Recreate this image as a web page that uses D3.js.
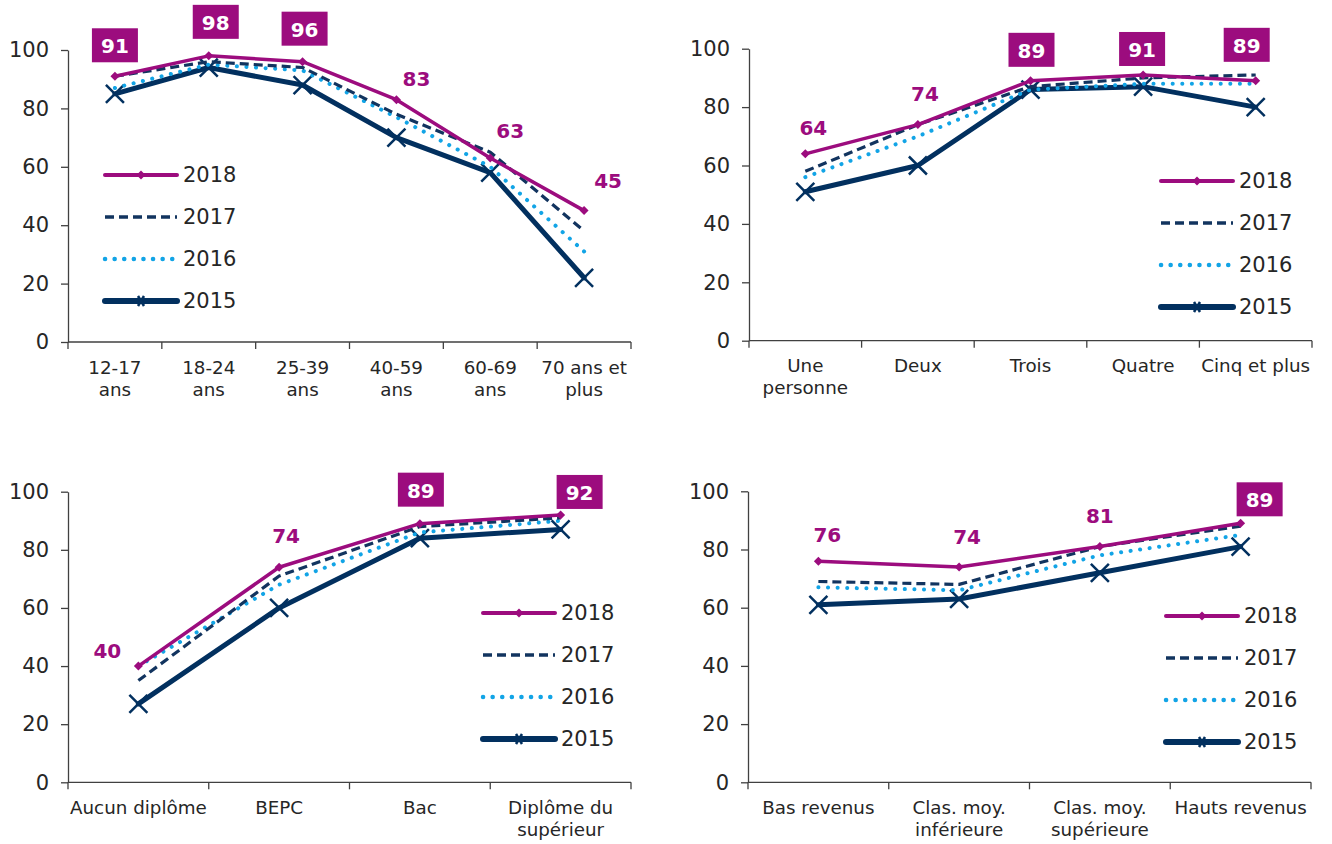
<!DOCTYPE html>
<html><head><meta charset="utf-8">
<script src="https://cdn.jsdelivr.net/npm/d3@7"></script>
<style>
body{margin:0;background:#fff}
svg{display:block}
text{font-family:Verdana,"DejaVu Sans",sans-serif}
</style>
</head><body>
<svg id="c" width="1332" height="844"></svg>
<script>
// ---------- DATA ----------
const years = ["2018", "2017", "2016", "2015"];
const yTicks = [0, 20, 40, 60, 80, 100];

const ageCats = [["12-17", "ans"], ["18-24", "ans"], ["25-39", "ans"], ["40-59", "ans"], ["60-69", "ans"], ["70 ans et", "plus"]];
const age2018 = [91, 98, 96, 83, 63, 45];
const age2017 = [91, 96, 94, 78, 65, 38];
const age2016 = [87, 95, 93, 77, 60, 31];
const age2015 = [85, 94, 88, 70, 58, 22];
const ageBoxed = [true, true, true, false, false, false];

const menCats = [["Une", "personne"], ["Deux"], ["Trois"], ["Quatre"], ["Cinq et plus"]];
const men2018 = [64, 74, 89, 91, 89];
const men2017 = [58, 74, 87, 90, 91];
const men2016 = [56, 70, 86, 88, 88];
const men2015 = [51, 60, 86, 87, 80];
const menBoxed = [false, false, true, true, true];

const dipCats = [["Aucun diplôme"], ["BEPC"], ["Bac"], ["Diplôme du", "supérieur"]];
const dip2018 = [40, 74, 89, 92];
const dip2017 = [35, 71, 88, 91];
const dip2016 = [40, 68, 86, 90];
const dip2015 = [27, 60, 84, 87];
const dipBoxed = [false, false, true, true];

const revCats = [["Bas revenus"], ["Clas. moy.", "inférieure"], ["Clas. moy.", "supérieure"], ["Hauts revenus"]];
const rev2018 = [76, 74, 81, 89];
const rev2017 = [69, 68, 81, 88];
const rev2016 = [67, 66, 78, 85];
const rev2015 = [61, 63, 72, 81];
const revBoxed = [false, false, false, true];

// ---------- STYLE / LAYOUT ----------
const TXT = "#262626", AX = "#404040", PURPLE = "#9C0C7E";
const styles = {
  "2018": {color: PURPLE, width: 3.5, dash: null, cap: "round", marker: "diamond", lw: 4},
  "2017": {color: "#12345F", width: 3.2, dash: "9,5", cap: "butt", marker: null, lw: 3.5},
  "2016": {color: "#12A4E6", width: 4, dash: "0.1,9.5", cap: "round", marker: null, lw: 4.5},
  "2015": {color: "#02305F", width: 5, dash: null, cap: "round", marker: "x", lw: 6}
};

const panels = [
  {cats: ageCats, series: [age2018, age2017, age2016, age2015], boxed: ageBoxed,
   x0: 68, x1: 631, yb: 342, yt: 50, lx: 105, ly: 175,
   off: [[0, -31], [7, -34], [2, -33], [20, -22], [20, -28], [24, -31]]},
  {cats: menCats, series: [men2018, men2017, men2016, men2015], boxed: menBoxed,
   x0: 749, x1: 1312, yb: 340.7, yt: 48.7, lx: 1161, ly: 181,
   off: [[8, -27], [7, -32], [1, -31], [-1, -26], [-9, -36]]},
  {cats: dipCats, series: [dip2018, dip2017, dip2016, dip2015], boxed: dipBoxed,
   x0: 68, x1: 631, yb: 782.3, yt: 491.7, lx: 483, ly: 613,
   off: [[-31, -16], [7, -32], [1, -34], [19, -23]]},
  {cats: revCats, series: [rev2018, rev2017, rev2016, rev2015], boxed: revBoxed,
   x0: 748, x1: 1311, yb: 782.3, yt: 491.3, lx: 1166, ly: 616,
   off: [[9, -27], [8, -31], [0, -32], [19, -24]]}
];

const svg = d3.select("#c");

function drawMarker(g, type, cx, cy, st, small) {
  if (type === "diamond") {
    const r = 4.5;
    g.append("path").attr("d", `M${cx},${cy - r}L${cx + r},${cy}L${cx},${cy + r}L${cx - r},${cy}Z`)
      .attr("fill", st.color);
  } else if (type === "x") {
    const r = small ? 5 : 9;
    const rx = small ? 3 : 9;
    g.append("path").attr("d", `M${cx - rx},${cy - r}L${cx + rx},${cy + r}M${cx - rx},${cy + r}L${cx + rx},${cy - r}`)
      .attr("stroke", st.color).attr("stroke-width", 2.5).attr("fill", "none");
  }
}

panels.forEach(p => {
  const g = svg.append("g");
  const names = p.cats.map(c => c.join(" "));
  const x = d3.scaleBand().domain(names).range([p.x0, p.x1]);
  const y = d3.scaleLinear().domain([0, 100]).range([p.yb, p.yt]);
  const cx = i => x(names[i]) + x.bandwidth() / 2;

  // y axis
  const ya = g.append("g").attr("transform", `translate(${p.x0},0)`)
    .call(d3.axisLeft(y).tickValues(yTicks).tickSize(7).tickPadding(12).tickSizeOuter(0));
  ya.select(".domain").attr("stroke", AX).attr("stroke-width", 1.3);
  ya.selectAll(".tick line").attr("stroke", AX).attr("stroke-width", 1.3);
  ya.selectAll(".tick text").attr("fill", TXT).style("font-size", "21px")
    .style("font-family", 'Verdana,"DejaVu Sans",sans-serif');

  // x axis
  const xa = g.append("g");
  xa.append("line").attr("x1", p.x0).attr("x2", p.x1).attr("y1", p.yb).attr("y2", p.yb)
    .attr("stroke", AX).attr("stroke-width", 1.3);
  const bounds = names.map(n => x(n)).concat([p.x1]);
  bounds.forEach(b => xa.append("line").attr("x1", b).attr("x2", b)
    .attr("y1", p.yb).attr("y2", p.yb + 7).attr("stroke", AX).attr("stroke-width", 1.3));
  p.cats.forEach((lines, i) => {
    lines.forEach((t, j) => {
      xa.append("text").attr("x", cx(i)).attr("y", p.yb + 25 + j * 22)
        .attr("text-anchor", "middle").attr("dominant-baseline", "central")
        .attr("fill", TXT).style("font-size", "18.3px").text(t);
    });
  });

  // lines: draw 2015 first, 2018 last
  const line = d3.line().x((d, i) => cx(i)).y(d => y(d));
  for (let k = years.length - 1; k >= 0; k--) {
    const yr = years[k], st = styles[yr], vals = p.series[k];
    const path = g.append("path").datum(vals).attr("d", line)
      .attr("fill", "none").attr("stroke", st.color).attr("stroke-width", st.width)
      .attr("stroke-linecap", st.cap).attr("stroke-linejoin", "round");
    if (st.dash) path.attr("stroke-dasharray", st.dash);
    if (st.marker) vals.forEach((v, i) => drawMarker(g, st.marker, cx(i), y(v), st, false));
  }

  // legend
  years.forEach((yr, k) => {
    const st = styles[yr];
    const ly = p.ly + k * 42;
    const l = g.append("line").attr("x1", p.lx).attr("x2", p.lx + 72).attr("y1", ly).attr("y2", ly)
      .attr("stroke", st.color).attr("stroke-width", st.lw).attr("stroke-linecap", st.cap);
    if (st.dash) l.attr("stroke-dasharray", st.dash);
    if (st.marker) drawMarker(g, st.marker, p.lx + 36, ly, st, true);
    g.append("text").attr("x", p.lx + 78).attr("y", ly).attr("dominant-baseline", "central")
      .attr("fill", TXT).style("font-size", "21px").text(yr);
  });

  // data labels for 2018
  const v18 = p.series[0];
  v18.forEach((v, i) => {
    const tx = cx(i) + p.off[i][0], ty = y(v) + p.off[i][1];
    if (p.boxed[i]) {
      g.append("rect").attr("x", tx - 23).attr("y", ty - 17).attr("width", 46).attr("height", 34)
        .attr("fill", PURPLE);
      g.append("text").attr("x", tx).attr("y", ty + 1).attr("text-anchor", "middle")
        .attr("dominant-baseline", "central").attr("fill", "#fff")
        .style("font-size", "20px").style("font-weight", "bold").text(v);
    } else {
      g.append("text").attr("x", tx).attr("y", ty + 1).attr("text-anchor", "middle")
        .attr("dominant-baseline", "central").attr("fill", PURPLE)
        .style("font-size", "20px").style("font-weight", "bold").text(v);
    }
  });
});
</script>
</body></html>
